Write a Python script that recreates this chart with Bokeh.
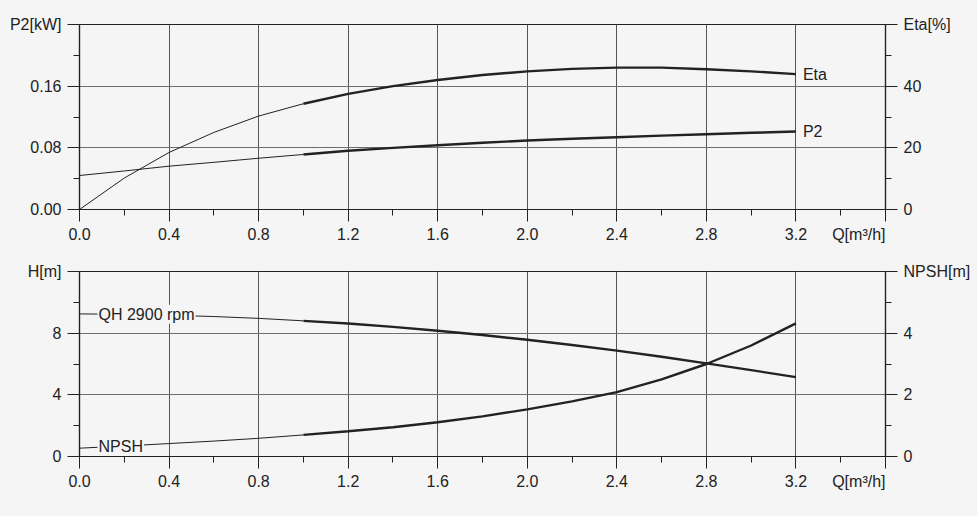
from bokeh.plotting import figure
from bokeh.layouts import column
from bokeh.models import Range1d, LinearAxis, FixedTicker, Label
from bokeh.embed import file_html
from bokeh.resources import INLINE

# ---- data ----
Q = [0.0, 0.2, 0.4, 0.6, 0.8, 1.0, 1.2, 1.4, 1.6, 1.8, 2.0, 2.2, 2.4, 2.6, 2.8, 3.0, 3.2]
P2 = [0.0441, 0.0500, 0.0562, 0.0612, 0.0665, 0.0714, 0.0762, 0.0800, 0.0834, 0.0866,
      0.0895, 0.0918, 0.0938, 0.0958, 0.0977, 0.0995, 0.1012]
ETA = [0.0, 10.2, 18.5, 25.0, 30.3, 34.3, 37.5, 40.0, 42.0, 43.6, 44.8, 45.6, 46.0, 46.0,
       45.5, 44.8, 43.9]
QH = [9.25, 9.22, 9.16, 9.08, 8.96, 8.80, 8.63, 8.41, 8.16, 7.88, 7.57, 7.23, 6.87, 6.47,
      6.04, 5.60, 5.15]
NPSH = [0.27, 0.34, 0.42, 0.50, 0.59, 0.70, 0.82, 0.95, 1.11, 1.30, 1.53, 1.79, 2.09, 2.50,
        3.00, 3.60, 4.32]
X_TICKS = [0.0, 0.4, 0.8, 1.2, 1.6, 2.0, 2.4, 2.8, 3.2, 3.6]
X_MINOR = [0.2, 0.6, 1.0, 1.4, 1.8, 2.2, 2.6, 3.0, 3.4]
X_TITLE = "Q[m\u00b3/h]"
P2_TICKS = [0.0, 0.08, 0.16, 0.24]
P2_MINOR = [0.04, 0.12, 0.20]
ETA_TICKS = [0, 20, 40, 60]
ETA_MINOR = [10, 30, 50]
H_TICKS = [0, 4, 8, 12]
H_MINOR = [2, 6, 10]
N_TICKS = [0, 2, 4, 6]
N_MINOR = [1, 3, 5]
THICK_FROM = 5  # index of Q = 1.0

BG = "#f5f5f5"
INK = "#222222"
GRID = "#6e6e6e"
FONT = "Liberation Sans"
FS = "16px"


def style_axis(ax, ticks, minor, overrides):
    ax.ticker = FixedTicker(ticks=ticks, minor_ticks=minor)
    ax.major_label_overrides = overrides
    ax.axis_line_color = INK
    ax.axis_line_width = 1.2
    ax.major_tick_line_color = INK
    ax.minor_tick_line_color = INK
    ax.major_tick_out = 12
    ax.major_tick_in = 0
    ax.minor_tick_out = 6
    ax.minor_tick_in = 0
    ax.major_label_standoff = 6
    ax.major_label_text_font = FONT
    ax.major_label_text_font_size = FS
    ax.major_label_text_color = INK


def style_x(p):
    ax = p.xaxis[0]
    style_axis(ax, X_TICKS, X_MINOR,
               {x: ("" if x == 3.6 else f"{x:.1f}") for x in X_TICKS})
    ax.axis_label = X_TITLE + "\u00a0" * 12
    ax.axis_label_text_font = FONT
    ax.axis_label_text_font_size = FS
    ax.axis_label_text_font_style = "normal"
    ax.axis_label_text_color = INK
    ax.axis_label_standoff = -17
    ax.axis_label_align = "end"


def make_fig(height, top, bottom, y_max, y_name, y2_max):
    p = figure(width=973, height=height, output_backend="svg", toolbar_location=None,
               x_range=Range1d(0, 3.6), y_range=Range1d(0, y_max),
               min_border_left=79, min_border_right=87,
               min_border_top=top, min_border_bottom=bottom)
    p.extra_y_ranges = {y_name: Range1d(0, y2_max)}
    p.background_fill_color = BG
    p.border_fill_color = BG
    p.outline_line_color = INK
    p.outline_line_width = 1.2
    p.xgrid.ticker = FixedTicker(ticks=X_TICKS[1:-1])
    p.xgrid.grid_line_color = "#555555"
    p.xgrid.grid_line_width = 1
    p.ygrid.grid_line_color = GRID
    p.ygrid.grid_line_width = 1
    return p


def lab(**kw):
    return Label(text_font=FONT, text_font_size=FS, text_color=INK,
                 text_baseline="middle", **kw)


# ---------------- top chart ----------------
p1 = make_fig(250, 24, 41, 0.24, "eta", 60)
p1.ygrid.ticker = FixedTicker(ticks=P2_TICKS[1:-1])
style_x(p1)
style_axis(p1.yaxis[0], P2_TICKS, P2_MINOR,
           {v: ("P2[kW]" if v == 0.24 else f"{v:.2f}") for v in P2_TICKS})
ax_eta = LinearAxis(y_range_name="eta")
style_axis(ax_eta, ETA_TICKS, ETA_MINOR,
           {v: ("Eta[%]" if v == 60 else str(v)) for v in ETA_TICKS})
p1.add_layout(ax_eta, "right")

k = THICK_FROM
p1.line(Q[:k + 1], P2[:k + 1], line_color=INK, line_width=1)
p1.line(Q[k:], P2[k:], line_color=INK, line_width=2.4)
p1.line(Q[:k + 1], ETA[:k + 1], line_color=INK, line_width=1, y_range_name="eta")
p1.line(Q[k:], ETA[k:], line_color=INK, line_width=2.4, y_range_name="eta")

p1.add_layout(lab(x=Q[-1], y=ETA[-1], y_range_name="eta", text="Eta", x_offset=7))
p1.add_layout(lab(x=Q[-1], y=P2[-1], text="P2", x_offset=7))

# ---------------- bottom chart ----------------
p2 = make_fig(258, 21, 52, 12, "npsh", 6)
p2.ygrid.ticker = FixedTicker(ticks=H_TICKS[1:-1])
style_x(p2)
style_axis(p2.yaxis[0], H_TICKS, H_MINOR,
           {v: ("H[m]" if v == 12 else str(v)) for v in H_TICKS})
ax_n = LinearAxis(y_range_name="npsh")
style_axis(ax_n, N_TICKS, N_MINOR,
           {v: ("NPSH[m]" if v == 6 else str(v)) for v in N_TICKS})
p2.add_layout(ax_n, "right")

p2.line(Q[:k + 1], QH[:k + 1], line_color=INK, line_width=1)
p2.line(Q[k:], QH[k:], line_color=INK, line_width=2.4)
p2.line(Q[:k + 1], NPSH[:k + 1], line_color=INK, line_width=1, y_range_name="npsh")
p2.line(Q[k:], NPSH[k:], line_color=INK, line_width=2.4, y_range_name="npsh")

p2.add_layout(lab(x=0, y=QH[1], text="QH 2900 rpm", x_offset=18,
                  background_fill_color=BG, padding=1))
p2.add_layout(lab(x=0, y=NPSH[1], y_range_name="npsh", text="NPSH", x_offset=18,
                  background_fill_color=BG, padding=1))

layout = column(p1, p2, spacing=0)
html = file_html(layout, INLINE)
html = html.replace("<head>", "<head><style>body{background:#f5f5f5;}</style>", 1)
open("out.html", "w").write(html)
